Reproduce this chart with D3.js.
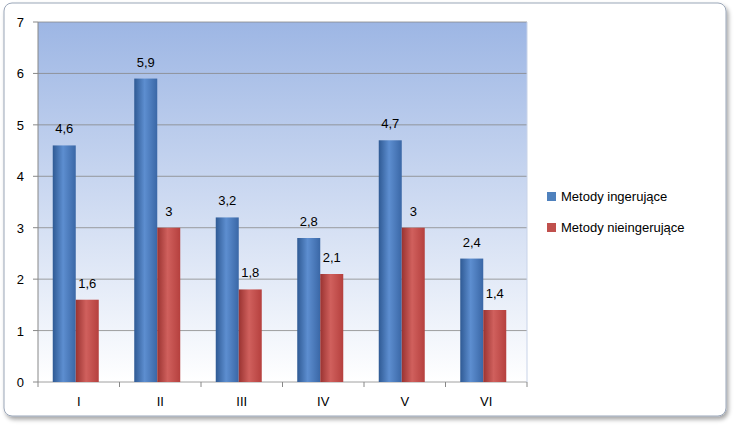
<!DOCTYPE html><html><head><meta charset="utf-8"><script src="https://cdn.jsdelivr.net/npm/d3@7"></script>
<style>body{margin:0;background:#fff}svg{display:block;font-family:"Liberation Sans",Arial,sans-serif}</style></head><body><svg id="c" width="736" height="432"></svg><script>
const categories=["I","II","III","IV","V","VI"];
const seriesNames=["Metody ingerujące","Metody nieingerujące"];
const seriesA=[4.6,5.9,3.2,2.8,4.7,2.4];
const seriesB=[1.6,3,1.8,2.1,3,1.4];
const yTicks=[0,1,2,3,4,5,6,7];
const svg=d3.select("#c");
const defs=svg.append("defs");
const bg=defs.append("linearGradient").attr("id","bg").attr("x1",0).attr("y1",0).attr("x2",0).attr("y2",1);
bg.append("stop").attr("offset",0).attr("stop-color","#9db6e4");bg.append("stop").attr("offset",1).attr("stop-color","#ffffff");
function cyl(id,dark,mid,light){const g=defs.append("linearGradient").attr("id",id);
g.append("stop").attr("offset",0).attr("stop-color",dark);g.append("stop").attr("offset",0.45).attr("stop-color",light);g.append("stop").attr("offset",1).attr("stop-color",mid);}
cyl("gb","#2f5a94","#3a67a6","#5d8ed0");cyl("gr","#9a3331","#b5403e","#d0605d");
const f=defs.append("filter").attr("id","sh").attr("x","-5%").attr("y","-5%").attr("width","110%").attr("height","115%");
f.append("feDropShadow").attr("dx",2).attr("dy",3).attr("stdDeviation",2).attr("flood-opacity",0.35);
svg.append("rect").attr("x",4).attr("y",3).attr("width",722).attr("height",413).attr("rx",8).attr("fill","#fff").attr("stroke","#9aa6b8").attr("filter","url(#sh)");
const L=38,R=527,T=22,B=382;
const x=d3.scaleBand().domain(categories).range([L,R]);
const y=d3.scaleLinear().domain([0,7]).range([B,T]);
svg.append("rect").attr("x",L).attr("y",T).attr("width",R-L).attr("height",B-T).attr("fill","url(#bg)");
svg.append("g").selectAll("line").data(yTicks).join("line").attr("x1",L).attr("x2",R).attr("y1",d=>y(d)).attr("y2",d=>y(d)).attr("stroke","#888").attr("stroke-width",0.8);
svg.append("line").attr("x1",L).attr("x2",L).attr("y1",T).attr("y2",B).attr("stroke","#888");
svg.append("line").attr("x1",R).attr("x2",R).attr("y1",T).attr("y2",B).attr("stroke","#c8d3e8");
svg.append("g").selectAll("line").data(categories.concat(["_"])).join("line").attr("x1",(d,i)=>L+i*x.step()).attr("x2",(d,i)=>L+i*x.step()).attr("y1",B).attr("y2",B+5).attr("stroke","#888");
svg.append("g").selectAll("line").data(yTicks).join("line").attr("x1",L-5).attr("x2",L).attr("y1",d=>y(d)).attr("y2",d=>y(d)).attr("stroke","#888");
svg.append("g").selectAll("text").data(yTicks).join("text").attr("x",L-14).attr("y",d=>y(d)+5).attr("text-anchor","end").attr("font-size",13).text(d=>d);
svg.append("g").selectAll("text").data(categories).join("text").attr("x",d=>x(d)+x.step()/2).attr("y",B+24).attr("text-anchor","middle").attr("font-size",13).text(d=>d);
const bw=23;
[[seriesA,"url(#gb)",-bw],[seriesB,"url(#gr)",0]].forEach(([vals,fill,off])=>{
 const g=svg.append("g");
 g.selectAll("rect").data(vals).join("rect").attr("x",(d,i)=>x(categories[i])+x.step()/2+off-3).attr("y",d=>y(d)).attr("width",bw).attr("height",d=>B-y(d)).attr("fill",fill);
 g.selectAll("text").data(vals).join("text").attr("x",(d,i)=>x(categories[i])+x.step()/2+off-3+bw/2).attr("y",d=>y(d)-12).attr("text-anchor","middle").attr("font-size",13).text(d=>String(d).replace(".",","));
});
const lg=svg.append("g");
[["#4f81bd",0],["#c0504d",1]].forEach(([c,i])=>{
 lg.append("rect").attr("x",547).attr("y",192+i*31).attr("width",9).attr("height",9).attr("fill",c);
 lg.append("text").attr("x",561).attr("y",201+i*31).attr("font-size",13).text(seriesNames[i]);
});
</script></body></html>
